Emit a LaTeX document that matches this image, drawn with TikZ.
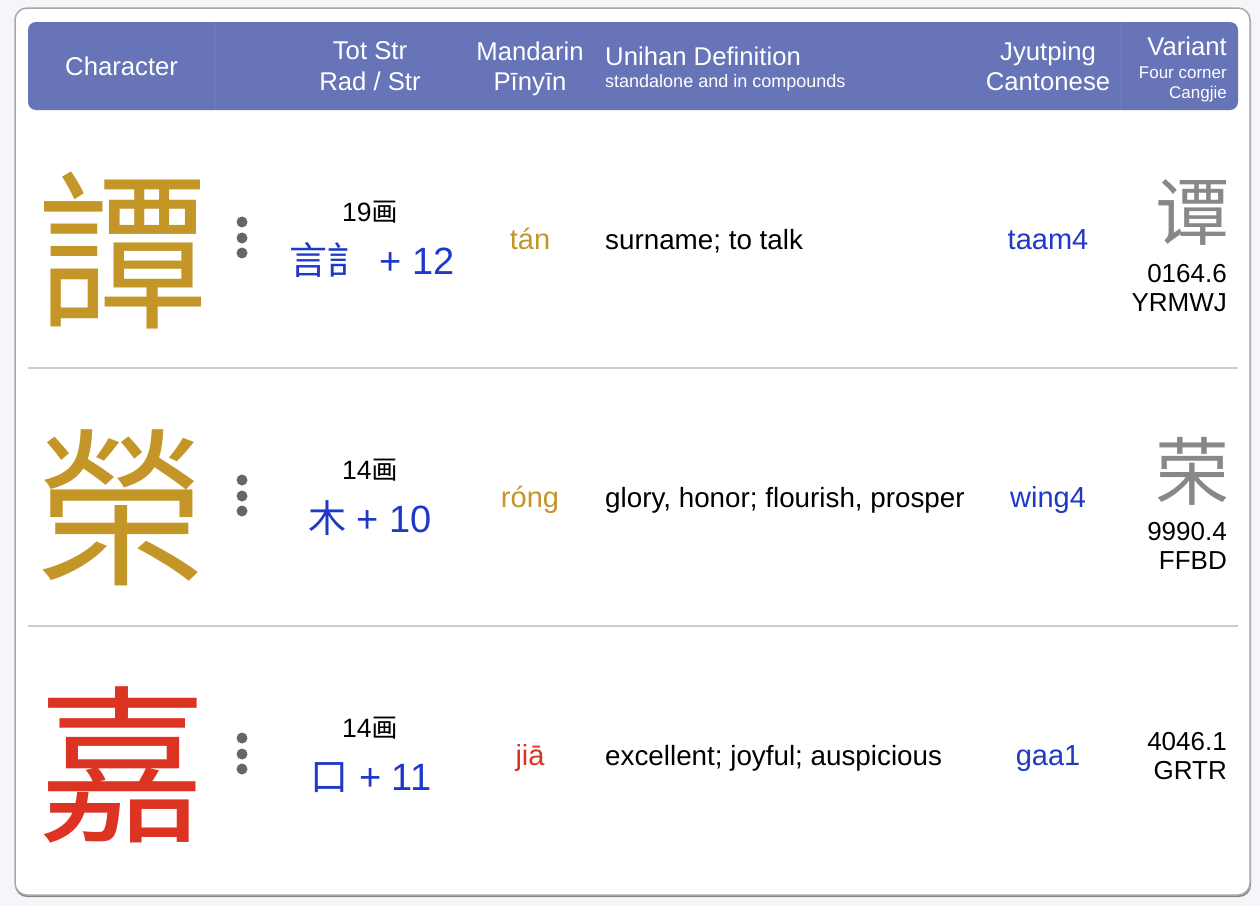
\documentclass[tikz,border=0pt]{standalone}
\usepackage{fontspec}
\setmainfont{Liberation Sans}
\newfontfamily\cjk{Noto Sans CJK TC}
\definecolor{pagebg}{HTML}{F5F5FA}
\definecolor{headbg}{RGB}{103,116,184}
\definecolor{headedge}{RGB}{110,123,188}
\definecolor{gold}{RGB}{196,150,40}
\definecolor{redc}{RGB}{221,51,34}
\definecolor{bluec}{RGB}{32,56,200}
\definecolor{varc}{HTML}{888888}
\definecolor{rulec}{HTML}{CCCCCC}
\definecolor{boxline}{HTML}{A8A8A8}
\definecolor{dotc}{HTML}{666666}
\newcommand{\fs}[1]{\fontsize{#1}{#1}\selectfont}
\tikzset{
  txt/.style={inner sep=0pt, anchor=base},
  head/.style={txt, text=white, font=\fs{25.7}},
  headsmall/.style={txt, text=white, font=\fs{17}},
  body/.style={txt, font=\fs{26}},
  defn/.style={txt, anchor=base west, font=\fs{27.8}},
  reading/.style={txt, font=\fs{29}},
  bigchar/.style={inner sep=0pt, anchor=center, font=\cjk\fs{170}},
  varchar/.style={inner sep=0pt, anchor=center, font=\cjk\fs{74}, text=varc},
  strokes/.style={txt, font=\fs{26.5}},
  radical/.style={txt, font=\fs{38}, text=bluec},
  menudot/.style={circle, fill=dotc, inner sep=0pt, minimum size=11pt},
}
\begin{document}
\begin{tikzpicture}[x=1pt,y=-1pt]
\useasboundingbox (0,0) rectangle (1260,906);
\fill[pagebg] (0,0) rectangle (1260,906);
% outer box with shadow
\fill[boxline!80!black, rounded corners=12pt] (15,10) rectangle (1251,897);
\filldraw[fill=white, draw=boxline, line width=1.5pt, rounded corners=12pt] (15,8) rectangle (1250,895);
% header
\fill[headbg, rounded corners=8pt] (28,22) rectangle (1238,110);
\draw[headedge, line width=0.6pt] (215,22) -- (215,110);
\draw[headedge, line width=0.6pt] (1120,22) -- (1120,110);
\node[head, anchor=base west] (hchar) at (65,75) {Character};
\node[head] (htot) at (370,59) {Tot Str};
\node[head] (hrad) at (370,90) {Rad / Str};
\node[head] (hmand) at (530,60) {Mandarin};
\node[head] (hpin) at (530,90) {Pīnyīn};
\node[head, anchor=base west] (hdef) at (605,65) {Unihan Definition};
\node[txt, text=white, font=\fs{18}, anchor=base west] (hdefs) at (605,87) {standalone and in compounds};
\node[head] (hjyut) at (1048,60) {Jyutping};
\node[head] (hcant) at (1048,90) {Cantonese};
\node[head, anchor=base east] (hvar) at (1227,55) {Variant};
\node[headsmall, anchor=base east] (hfour) at (1227,78) {Four corner};
\node[headsmall, anchor=base east] (hcang) at (1227,98) {Cangjie};
% row separators
\draw[rulec, line width=1.5pt] (28,368) coordinate (s1a) -- (1238,368) coordinate (s1b);
\draw[rulec, line width=1.5pt] (28,626) coordinate (s2a) -- (1238,626) coordinate (s2b);
% ---- row 1
\node[bigchar, text=gold] (c1) at (122,250) {譚};
\node[menudot] (d1a) at (242,222) {};
\node[menudot] (d1b) at (242,238) {};
\node[menudot] (d1c) at (242,253) {};
\node[strokes] (t1) at (370,221) {19{\cjk 画}};
\node[radical] (r1) at (372,274) {{\cjk 言訁}\hspace{14pt}+ 12};
\node[reading, text=gold] (p1) at (530,249) {tán};
\node[defn] (def1) at (605,249) {surname; to talk};
\node[reading, text=bluec] (j1) at (1048,249) {taam4};
\node[varchar] (v1) at (1192,213) {谭};
\node[body, anchor=base east] (f1) at (1227,282) {0164.6};
\node[body, anchor=base east] (g1) at (1227,311) {YRMWJ};
% ---- row 2
\node[bigchar, text=gold] (c2) at (121,508) {榮};
\node[menudot] (d2a) at (242,480) {};
\node[menudot] (d2b) at (242,496) {};
\node[menudot] (d2c) at (242,511) {};
\node[strokes] (t2) at (370,479) {14{\cjk 画}};
\node[radical] (r2) at (370,532) {{\cjk 木} + 10};
\node[reading, text=gold] (p2) at (530,507) {róng};
\node[defn] (def2) at (605,507) {glory, honor; flourish, prosper};
\node[reading, text=bluec] (j2) at (1048,507) {wing4};
\node[varchar] (v2) at (1192,471) {荣};
\node[body, anchor=base east] (f2) at (1227,540) {9990.4};
\node[body, anchor=base east] (g2) at (1227,569) {FFBD};
% ---- row 3
\node[bigchar, text=redc] (c3) at (122,765) {嘉};
\node[menudot] (d3a) at (242,738) {};
\node[menudot] (d3b) at (242,754) {};
\node[menudot] (d3c) at (242,769) {};
\node[strokes] (t3) at (370,737) {14{\cjk 画}};
\node[radical] (r3) at (371,790) {{\cjk 口} + 11};
\node[reading, text=redc] (p3) at (530,765) {jiā};
\node[defn] (def3) at (605,765) {excellent; joyful; auspicious};
\node[reading, text=bluec] (j3) at (1048,765) {gaa1};
\node[body, anchor=base east] (f3) at (1227,750) {4046.1};
\node[body, anchor=base east] (g3) at (1227,779) {GRTR};
\end{tikzpicture}
\end{document}
